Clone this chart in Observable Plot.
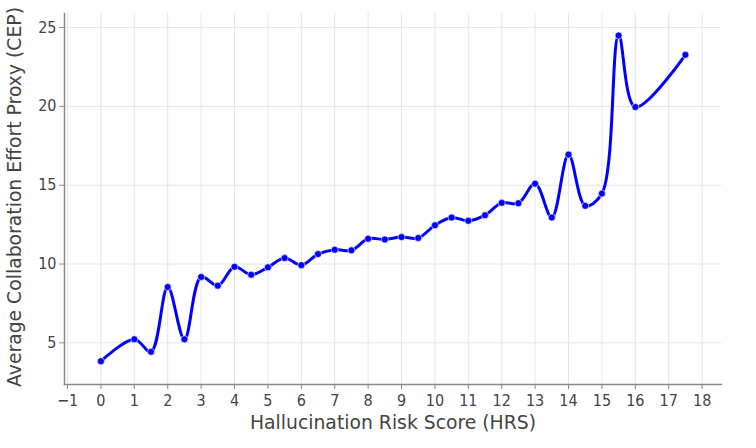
<!DOCTYPE html>
<html><head><meta charset="utf-8">
<script src="https://cdn.jsdelivr.net/npm/d3@7"></script>
<script src="https://cdn.jsdelivr.net/npm/@observablehq/plot@0.6"></script>
<style>body{margin:0;background:#fff} svg{font-family:"DejaVu Sans Condensed","DejaVu Sans",sans-serif}</style>
</head><body><div id="chart"></div>
<script>
const hrs = [0,1,1.5,2,2.5,3,3.5,4,4.5,5,5.5,6,6.5,7,7.5,8,8.5,9,9.5,10,10.5,11,11.5,12,12.5,13,13.5,14,14.5,15,15.5,16,17.5];
const cep = [3.84,5.23,4.43,8.54,5.23,9.18,8.63,9.83,9.32,9.79,10.38,9.93,10.63,10.91,10.87,11.6,11.56,11.71,11.65,12.46,12.95,12.74,13.1,13.88,13.86,15.1,12.95,16.94,13.69,14.47,24.49,19.96,23.27];
const xTicks = d3.range(-1, 19);
const yTicks = [5, 10, 15, 20, 25];
const xLabel = "Hallucination Risk Score (HRS)";
const yLabel = "Average Collaboration Effort Proxy (CEP)";

const data = hrs.map((x, i) => ({x, y: cep[i]}));
const fmt = d => d < 0 ? "\u2212" + Math.abs(d) : String(d);

const chart = Plot.plot({
  width: 756,
  height: 448,
  marginLeft: 64,
  marginRight: 35,
  marginTop: 13,
  marginBottom: 64,
  style: {fontFamily: "'DejaVu Sans Condensed', 'DejaVu Sans', sans-serif", background: "white"},
  x: {domain: [-1.09, 18.58]},
  y: {domain: [2.36, 25.89]},
  marks: [
    Plot.gridX(xTicks, {stroke: "#e5e5e5", strokeOpacity: 1, strokeWidth: 1}),
    Plot.gridY(yTicks, {stroke: "#e5e5e5", strokeOpacity: 1, strokeWidth: 1}),
    Plot.frame({anchor: "left", stroke: "#8a8a8a", strokeWidth: 1.5}),
    Plot.frame({anchor: "bottom", stroke: "#8a8a8a", strokeWidth: 1.5}),
    Plot.axisX(xTicks, {tickSize: 5, tickPadding: 5, stroke: "#8a8a8a", fill: "#444", fontSize: 16, label: null, tickFormat: fmt}),
    Plot.axisY(yTicks, {tickSize: 5, tickPadding: 3, stroke: "#8a8a8a", fill: "#444", fontSize: 16, label: null}),
    Plot.text([xLabel], {frameAnchor: "bottom", dy: 44, fontSize: 18.8, fontFamily: "DejaVu Sans", fill: "#444"}),
    Plot.text([yLabel], {frameAnchor: "left", textAnchor: "middle", rotate: -90, dx: -50, dy: -2, fontSize: 18.8, fontFamily: "DejaVu Sans", fill: "#444"}),
    Plot.line(data, {x: "x", y: "y", curve: "catmull-rom", stroke: "#0000ff", strokeWidth: 3}),
    Plot.dot(data, {x: "x", y: "y", r: 3.5, fill: "#0000ff", stroke: "white", strokeWidth: 0.6})
  ]
});
document.getElementById("chart").append(chart);
</script>
</body></html>
